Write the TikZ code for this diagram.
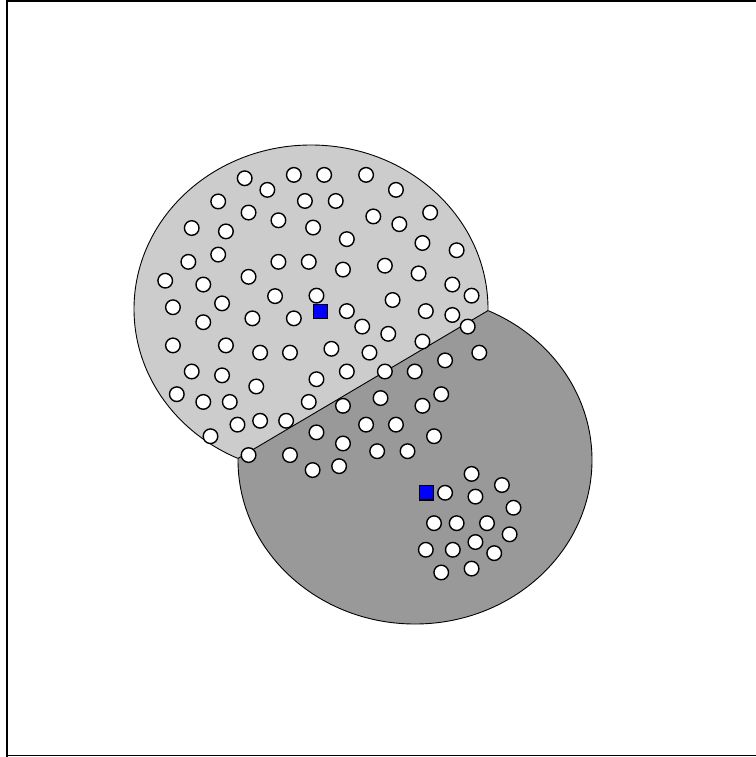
\documentclass[tikz,border=0pt]{standalone}
\usetikzlibrary{calc}
\definecolor{lightreg}{gray}{0.8}
\definecolor{darkreg}{gray}{0.6}
\tikzset{
  dot/.style={circle, draw=black, fill=white, line width=1.4pt, minimum size=14.6pt, inner sep=0pt},
  seed/.style={rectangle, draw=black, fill=blue, line width=1.2pt, minimum size=14.4pt, inner sep=0pt},
  region/.style={draw=black, line width=0.9pt},
  frame/.style={draw=black, line width=1.5pt}
}
\begin{document}
\begin{tikzpicture}[x=1pt,y=-1pt]
\useasboundingbox (0,0) rectangle (755,757);
\coordinate (cL) at (311,309);
\coordinate (cD) at (415,460);
\coordinate (p1) at (238.0,458.4);
\coordinate (p2) at (488.0,310.6);
\coordinate (q1) at ($(p1)!-1!(p2)$);
\coordinate (q2) at ($(p2)!-1!(p1)$);
\begin{scope}
  \clip (q1) -- (q2) -- (738,-100) -- (-12,-100) -- cycle;
  \filldraw[fill=lightreg, region] (cL) ellipse [x radius=177pt, y radius=164pt];
\end{scope}
\begin{scope}
  \clip (q1) -- (q2) -- (738,900) -- (-12,900) -- cycle;
  \filldraw[fill=darkreg, region] (cD) ellipse [x radius=177pt, y radius=164pt];
\end{scope}
\draw[region] (p1) -- (p2);
\foreach \x/\y [count=\i] in {
508/369, 610/362, 673/362, 760/362, 555/393, 822/393, 453/417, 633/416, 697/416,
516/440, 578/456, 775/448, 893/440, 829/464, 398/472, 469/479, 650/471, 720/495,
877/503, 948/518, 453/527, 391/542, 578/542, 641/542, 712/558, 799/550, 869/566,
343/581, 516/573, 422/589, 939/589, 571/613, 657/612, 979/612, 815/621, 359/636,
461/628, 720/644, 884/644, 939/652, 524/659, 610/659, 422/667, 752/676, 971/676,
806/691, 359/715, 469/715, 877/707, 688/722, 540/730, 602/730, 767/730, 995/730,
924/746, 398/769, 461/777, 720/769, 799/769, 861/769, 657/785, 532/800, 367/816,
916/816, 422/832, 477/832, 641/832, 790/824, 712/840, 877/840, 540/871, 594/871,
493/879, 760/879, 822/879, 437/903, 657/895, 901/903, 712/918, 516/942, 602/942,
783/934, 846/934, 649/973, 704/965,
979/981, 1042/1004, 924/1020, 987/1028, 1066/1051, 901/1083, 948/1083, 1011/1083,
1058/1106, 987/1122, 884/1138, 940/1138, 1026/1145, 916/1185, 979/1177}
  \node[dot] (d\i) at ({\x/2.076},{\y/2.07}) {};
\node[seed] (s1) at ({665/2.076},{645/2.07}) {};
\node[seed] (s2) at ({885/2.076},{1020/2.07}) {};
\draw[frame] (7,757) -- (7,1) -- (760,1);
\draw[draw=black, line width=1pt] (7,755.5) -- (760,755.5);
\end{tikzpicture}
\end{document}
